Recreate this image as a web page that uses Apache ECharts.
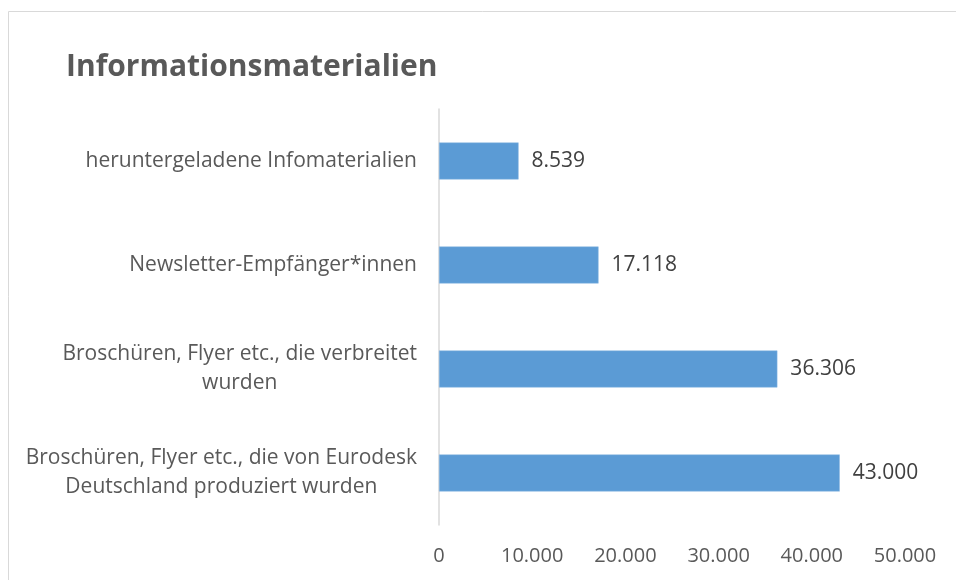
<!DOCTYPE html>
<html>
<head>
<meta charset="utf-8">
<script src="https://cdn.jsdelivr.net/npm/echarts@6/dist/echarts.min.js"></script>
<style>
  html, body { margin: 0; padding: 0; background: #fff; }
  #main { width: 956px; height: 580px; }
</style>
</head>
<body>
<div id="main"></div>
<script>
  // Kategorien von oben nach unten
  const categories = [
    'heruntergeladene Infomaterialien',
    'Newsletter-Empfänger*innen',
    'Broschüren, Flyer etc., die verbreitet\nwurden',
    'Broschüren, Flyer etc., die von Eurodesk\nDeutschland produziert wurden'
  ]
  const values = [8539, 17118, 36306, 43000]
  const xTicks = [0, 10000, 20000, 30000, 40000, 50000]

  function fmt (v) {
    return String(v).replace(/\B(?=(\d{3})+(?!\d))/g, '.')
  }

  const chart = echarts.init(document.getElementById('main'))
  const font = 'Open Sans'

  chart.setOption({
    animation: false,
    title: {
      text: 'Informationsmaterialien',
      left: 61,
      top: 47,
      textStyle: { fontFamily: font, fontSize: 30, fontWeight: 'bold', color: '#595959' }
    },
    graphic: [{
      type: 'rect',
      shape: { x: 8.5, y: 11.5, width: 1000, height: 1000 },
      style: { fill: 'none', stroke: '#d9d9d9', lineWidth: 1 },
      silent: true
    }],
    grid: { left: 439, right: 51, top: 109, bottom: 55 },
    xAxis: {
      type: 'value',
      min: 0,
      max: xTicks[xTicks.length - 1],
      interval: xTicks[1] - xTicks[0],
      axisLine: { show: false },
      axisTick: { show: false },
      splitLine: { show: false },
      axisLabel: {
        margin: 21,
        fontFamily: font,
        fontSize: 20,
        color: '#595959',
        formatter: fmt
      }
    },
    yAxis: {
      type: 'category',
      inverse: true,
      data: categories,
      axisLine: { show: true, lineStyle: { color: '#d9d9d9', width: 1.5 } },
      axisTick: { show: false },
      axisLabel: {
        margin: 22,
        fontFamily: font,
        fontSize: 21,
        color: '#595959',
        lineHeight: 29,
        formatter: function (v) { return '{c|' + v.split('\n').join('}\n{c|') + '}' },
        rich: { c: { align: 'center', fontFamily: font, fontSize: 21, color: '#595959', lineHeight: 29 } }
      }
    },
    series: [{
      type: 'bar',
      data: values,
      barWidth: 37,
      itemStyle: { color: '#5b9bd5', borderColor: '#8db8e3', borderWidth: 0.5 },
      label: {
        show: true,
        position: 'right',
        distance: 13,
        fontFamily: font,
        fontSize: 21,
        color: '#404040',
        formatter: function (p) { return fmt(p.value) }
      }
    }]
  })
</script>
</body>
</html>
